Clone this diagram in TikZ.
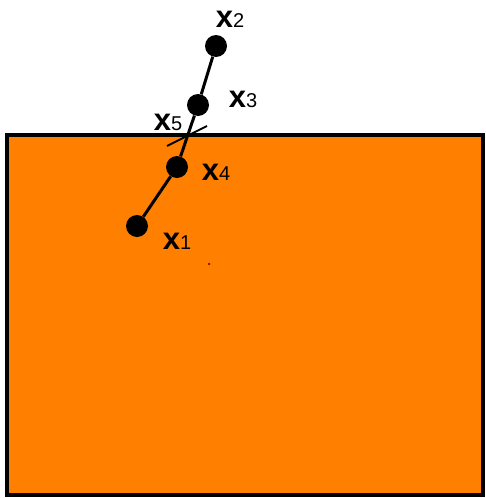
\documentclass[tikz,border=0pt]{standalone}
\usepackage{fontspec}
\setmainfont{Liberation Sans}
\definecolor{cuerpo}{RGB}{255,128,0}
\newcommand{\xlab}[1]{\textbf{x}{\fontsize{20}{20}\selectfont #1}}
\begin{document}
\begin{tikzpicture}[x=1pt,y=-1pt,every node/.style={font=\fontsize{31}{31}\selectfont},
    punto/.style={circle,fill=black,inner sep=0pt,minimum size=22pt},
    tramo/.style={line width=3pt}]
    \useasboundingbox (0,0) rectangle (486,498);
    % Bloque naranja con su borde superior.
    \fill[cuerpo] (7,135) rectangle (483,495);
    \draw[line width=4.5pt] (7,135) rectangle (483,495);
    \fill[red!70!black] (209,264) circle (1.3);

    % Puntos de la trayectoria.
    \node[punto] (p1) at (137,226) {};
    \node[punto] (p4) at (177,167) {};
    \node[punto] (p3) at (198,105) {};
    \node[punto] (p2) at (216,46) {};
    \coordinate (c5a) at (167,146);
    \coordinate (c5b) at (207,126);

    \draw[tramo] (p1) -- (p4) -- (p3) -- (p2);
    \draw[line width=2pt] (c5a) -- (c5b);

    \node (l2) at (230,19) {\xlab{2}};
    \node (l3) at (243,99) {\xlab{3}};
    \node (l5) at (168,122) {\xlab{5}};
    \node (l4) at (216,172) {\xlab{4}};
    \node (l1) at (177,241) {\xlab{1}};
\end{tikzpicture}
\end{document}
